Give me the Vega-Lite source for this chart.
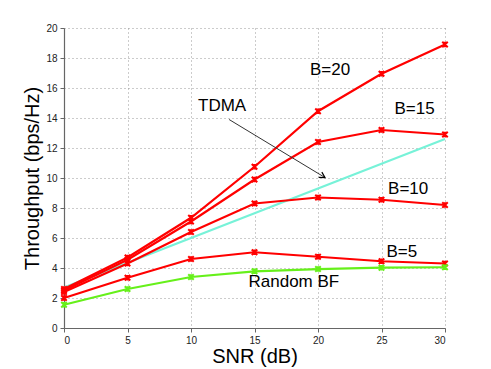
{
  "$schema": "https://vega.github.io/schema/vega-lite/v6.json",
  "width": 381,
  "height": 300,
  "autosize": {"type": "none"},
  "padding": {"left": 64, "top": 28, "right": 46, "bottom": 41},
  "background": "white",
  "config": {
    "view": {"stroke": null},
    "font": "Liberation Sans",
    "axis": {
      "grid": true,
      "gridDash": [1, 3],
      "gridColor": "#999999",
      "gridWidth": 1,
      "domainColor": "#666666",
      "domainWidth": 1.2,
      "tickColor": "#666666",
      "tickSize": 4,
      "labelFont": "Liberation Sans",
      "labelFontSize": 10,
      "labelColor": "#222222",
      "titleFont": "Liberation Sans",
      "titleFontSize": 20,
      "titleFontWeight": "normal",
      "titleColor": "#000000"
    }
  },
  "datasets": {
    "curves": [
      {"series": "B=20", "snr": 0, "thr": 2.6},
      {"series": "B=20", "snr": 5, "thr": 4.7},
      {"series": "B=20", "snr": 10, "thr": 7.35},
      {"series": "B=20", "snr": 15, "thr": 10.75},
      {"series": "B=20", "snr": 20, "thr": 14.45},
      {"series": "B=20", "snr": 25, "thr": 16.95},
      {"series": "B=20", "snr": 30, "thr": 18.9},
      {"series": "B=15", "snr": 0, "thr": 2.5},
      {"series": "B=15", "snr": 5, "thr": 4.55},
      {"series": "B=15", "snr": 10, "thr": 7.1},
      {"series": "B=15", "snr": 15, "thr": 9.9},
      {"series": "B=15", "snr": 20, "thr": 12.4},
      {"series": "B=15", "snr": 25, "thr": 13.2},
      {"series": "B=15", "snr": 30, "thr": 12.9},
      {"series": "B=10", "snr": 0, "thr": 2.4},
      {"series": "B=10", "snr": 5, "thr": 4.3},
      {"series": "B=10", "snr": 10, "thr": 6.4},
      {"series": "B=10", "snr": 15, "thr": 8.3},
      {"series": "B=10", "snr": 20, "thr": 8.7},
      {"series": "B=10", "snr": 25, "thr": 8.55},
      {"series": "B=10", "snr": 30, "thr": 8.2},
      {"series": "B=5", "snr": 0, "thr": 2.0},
      {"series": "B=5", "snr": 5, "thr": 3.35},
      {"series": "B=5", "snr": 10, "thr": 4.6},
      {"series": "B=5", "snr": 15, "thr": 5.05},
      {"series": "B=5", "snr": 20, "thr": 4.75},
      {"series": "B=5", "snr": 25, "thr": 4.45},
      {"series": "B=5", "snr": 30, "thr": 4.3},
      {"series": "Random BF", "snr": 0, "thr": 1.55},
      {"series": "Random BF", "snr": 5, "thr": 2.6},
      {"series": "Random BF", "snr": 10, "thr": 3.4},
      {"series": "Random BF", "snr": 15, "thr": 3.78},
      {"series": "Random BF", "snr": 20, "thr": 3.93},
      {"series": "Random BF", "snr": 25, "thr": 4.02},
      {"series": "Random BF", "snr": 30, "thr": 4.05}
    ],
    "tdma": [
      {"series": "TDMA", "snr": 0, "thr": 2.7},
      {"series": "TDMA", "snr": 5, "thr": 4.35},
      {"series": "TDMA", "snr": 10, "thr": 6.0},
      {"series": "TDMA", "snr": 15, "thr": 7.65},
      {"series": "TDMA", "snr": 20, "thr": 9.3},
      {"series": "TDMA", "snr": 25, "thr": 10.95},
      {"series": "TDMA", "snr": 30, "thr": 12.6}
    ],
    "labels": [
      {"label": "B=20", "snr": 20.95, "thr": 17.2},
      {"label": "B=15", "snr": 27.6, "thr": 14.6},
      {"label": "B=10", "snr": 27.1, "thr": 9.25},
      {"label": "B=5", "snr": 26.6, "thr": 5.1},
      {"label": "Random BF", "snr": 18.1, "thr": 3.05},
      {"label": "TDMA", "snr": 12.45, "thr": 14.8}
    ],
    "arrow": [
      {"snr": 13.0, "thr": 13.9, "snr2": 20.55, "thr2": 10.03}
    ]
  },
  "encoding": {
    "x": {"field": "snr", "type": "quantitative", "scale": {"domain": [0, 30]},
          "axis": {"title": "SNR (dB)", "values": [0, 5, 10, 15, 20, 25, 30], "labelPadding": 3, "titleY": 28, "titleBaseline": "middle"}},
    "y": {"field": "thr", "type": "quantitative", "scale": {"domain": [0, 20]},
          "axis": {"title": "Throughput (bps/Hz)", "values": [0, 2, 4, 6, 8, 10, 12, 14, 16, 18, 20], "labelPadding": 3, "titleX": -32, "titleY": 150, "titleAngle": -90, "titleBaseline": "middle", "titleAlign": "center"}}
  },
  "layer": [
    {
      "data": {"name": "tdma"},
      "mark": {"type": "line", "color": "#77f2d8", "strokeWidth": 2.2},
      "encoding": {}
    },
    {
      "data": {"name": "curves"},
      "mark": {"type": "line", "strokeWidth": 2.2},
      "encoding": {
        "detail": {"field": "series"},
        "color": {"field": "series", "type": "nominal", "legend": null,
                  "scale": {"domain": ["B=20", "B=15", "B=10", "B=5", "Random BF"], "range": ["#ff0000", "#ff0000", "#ff0000", "#ff0000", "#66f01a"]}}
      }
    },
    {
      "data": {"name": "curves"},
      "mark": {"type": "point", "shape": "M-1,-1L1,1M-1,1L1,-1M0,-1L0,1", "filled": false, "size": 30, "strokeWidth": 2, "opacity": 1},
      "encoding": {
        "color": {"field": "series", "type": "nominal", "legend": null}
      }
    },
    {
      "data": {"name": "arrow"},
      "mark": {"type": "rule", "color": "#333333", "strokeWidth": 1},
      "encoding": {
        "x2": {"field": "snr2"},
        "y2": {"field": "thr2"}
      }
    },
    {
      "data": {"name": "arrow"},
      "mark": {"type": "point", "shape": "M-1,-0.55L0,0L-1,0.55", "filled": false, "size": 120, "strokeWidth": 1.2, "color": "#000000", "opacity": 1, "angle": 31},
      "encoding": {
        "x": {"field": "snr2", "type": "quantitative"},
        "y": {"field": "thr2", "type": "quantitative"}
      }
    },
    {
      "data": {"name": "labels"},
      "mark": {"type": "text", "fontSize": 17, "font": "Liberation Sans", "color": "#000000", "align": "center", "baseline": "middle"},
      "encoding": {
        "text": {"field": "label"}
      }
    }
  ]
}
